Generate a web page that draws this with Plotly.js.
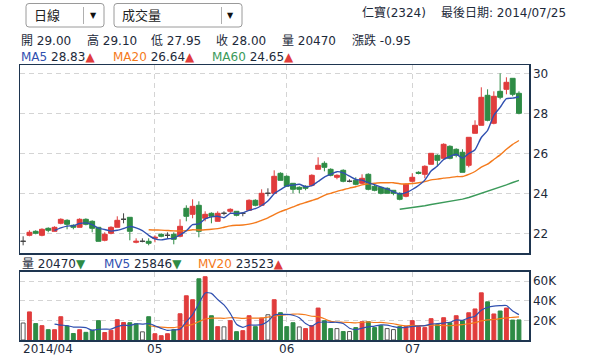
<!DOCTYPE html>
<html><head><meta charset="utf-8">
<script src="https://cdn.plot.ly/plotly-3.0.1.min.js"></script>
<style>html,body{margin:0;padding:0;background:#fff}#chart{width:594px;height:357px}</style>
</head><body><div id="chart"></div>
<script>
// ---- data ----
const openP = [21.6,21.9,22.1,21.9,22.25,22.1,22.5,22.65,22.4,22.3,
 22.7,22.6,22.3,21.65,22.0,22.3,22.7,22.8,21.55,21.6,
 21.6,21.75,21.95,21.9,21.95,21.85,23.25,22.95,23.4,22.75,
 23.0,22.6,23.0,23.1,23.1,23.0,23.15,23.65,23.4,24.0,
 24.0,25.0,24.85,24.5,24.3,24.35,24.4,25.2,25.5,25.2,
 24.8,25.15,24.6,24.65,24.5,24.95,24.35,24.3,24.25,24.15,
 24.0,23.85,24.6,25.05,24.95,25.45,25.9,25.75,26.35,26.2,
 26.05,25.4,27.0,27.4,28.9,27.5,29.1,29.2,29.75,29.0];
const highP = [21.85,22.15,22.15,22.25,22.3,22.35,22.75,22.7,22.45,22.75,
 22.75,22.65,22.3,22.05,22.35,22.85,23.0,22.8,21.75,21.75,
 21.75,21.9,22.0,22.05,22.05,22.7,23.4,23.7,23.6,23.1,
 23.05,23.1,23.1,23.25,23.1,23.05,23.7,23.7,24.2,24.25,
 25.15,25.05,24.9,24.5,24.35,24.4,24.95,25.8,25.6,25.25,
 24.95,25.2,24.7,24.8,24.95,25.0,24.5,24.35,24.3,24.15,
 24.05,24.5,25.0,25.1,25.4,26.0,25.95,26.5,26.4,26.25,
 26.2,26.8,27.65,29.3,29.2,29.1,30.0,29.8,29.75,29.1];
const lowP = [21.4,21.85,21.95,21.85,22.05,22.1,22.45,22.2,22.2,22.3,
 22.4,22.05,21.6,21.6,21.95,22.3,22.5,21.65,21.5,21.55,
 21.4,21.55,21.8,21.75,21.45,21.8,22.6,22.75,21.8,22.6,
 22.5,22.6,22.9,23.0,22.85,22.85,23.15,23.35,23.4,23.85,
 24.0,24.65,24.35,24.0,24.0,24.15,24.35,25.2,25.1,24.85,
 24.7,24.55,24.55,24.4,24.45,24.15,24.1,23.95,24.0,23.9,
 23.65,23.8,24.55,24.95,24.75,25.45,25.35,25.75,25.7,25.8,
 25.05,25.3,27.0,27.4,27.6,27.45,28.7,28.95,28.85,27.95];
const closeP = [21.6,22.05,22.0,22.2,22.15,22.3,22.7,22.45,22.3,22.7,
 22.45,22.25,21.6,21.95,22.3,22.65,22.7,22.1,21.6,21.6,
 21.5,21.8,21.85,21.9,21.7,22.35,22.85,23.35,22.1,22.95,
 22.85,23.0,23.0,23.2,22.9,23.0,23.65,23.4,24.0,24.0,
 24.85,24.65,24.35,24.2,24.2,24.25,24.9,25.4,25.3,24.9,
 24.9,24.6,24.6,24.45,24.75,24.2,24.15,24.0,24.0,24.0,
 23.7,24.45,24.8,25.0,25.35,26.0,25.65,26.45,25.75,25.9,
 25.05,26.8,27.4,28.8,27.65,28.85,28.8,29.55,28.95,28.0];
const prevClose = 21.6;
const volume = [17300,28600,16700,14600,10500,10500,23700,14200,6600,10500,
 7800,10100,19700,7600,9900,20700,17800,17600,16500,8300,
 23700,6400,4400,6400,10500,26700,45000,41000,62300,64400,
 24700,13600,13400,19700,8500,9500,24700,13600,22200,25700,
 41000,27800,13600,17600,13300,11600,14600,32500,19700,11600,
 11600,8600,8600,12600,18600,18600,12600,14600,11600,10600,
 13600,13600,19700,13600,12600,21700,15600,22700,17600,24700,
 19700,27700,31600,48000,38830,26500,29500,32500,20260,20470];
const ma5 = [null,null,null,null,null,22.14,22.27,22.36,22.38,22.49,
 22.52,22.43,22.26,22.19,22.11,22.15,22.24,22.34,22.27,22.13,
 21.9,21.72,21.67,21.73,21.75,21.92,22.13,22.43,22.47,22.72,
 22.82,22.85,22.78,23.0,22.99,23.02,23.15,23.23,23.39,23.61,
 23.98,24.18,24.37,24.41,24.45,24.33,24.38,24.59,24.81,24.95,
 25.08,25.02,24.86,24.69,24.66,24.52,24.43,24.31,24.22,24.07,
 23.97,24.03,24.19,24.39,24.66,25.12,25.36,25.69,25.84,25.95,
 25.76,25.99,26.18,26.79,27.14,27.9,28.3,28.73,28.76,28.83];
const ma20 = [null,null,null,null,null,null,null,null,null,null,
 null,null,null,null,null,null,null,null,null,null,
 22.18,22.165,22.16,22.14,22.12,22.12,22.13,22.175,22.165,22.18,
 22.2,22.235,22.305,22.37,22.4,22.415,22.46,22.53,22.65,22.77,
 22.935,23.08,23.2,23.32,23.44,23.54,23.64,23.74,23.9,24.0,
 24.1,24.18,24.26,24.325,24.42,24.48,24.5,24.53,24.53,24.53,
 24.475,24.465,24.49,24.53,24.585,24.67,24.71,24.76,24.785,24.835,
 24.84,24.95,25.09,25.31,25.455,25.69,25.92,26.2,26.445,26.64];
const ma60 = [null,null,null,null,null,null,null,null,null,null,
 null,null,null,null,null,null,null,null,null,null,
 null,null,null,null,null,null,null,null,null,null,
 null,null,null,null,null,null,null,null,null,null,
 null,null,null,null,null,null,null,null,null,null,
 null,null,null,null,null,null,null,null,null,null,
 23.2,23.24,23.28,23.33,23.38,23.44,23.49,23.56,23.62,23.67,
 23.71,23.79,23.89,24.0,24.09,24.19,24.3,24.42,24.54,24.65];
const mv5 = [null,null,null,null,null,16180,15200,14700,13100,13100,
 12560,9840,10940,11140,11020,13600,15140,14720,16500,16180,
 16780,14500,11860,9840,10280,10880,18600,25920,37100,47880,
 47480,41200,35680,27160,15980,12940,15160,15200,15700,19140,
 25440,26060,26060,25140,22660,16780,14140,17920,18340,18000,
 18000,16800,12020,10600,12000,13400,14200,15400,15200,13600,
 12600,12800,13820,14220,14620,16240,16640,17240,18040,20460,
 20060,22480,24260,30340,33170,34530,34890,35070,29520,25846];
const mv20 = [null,null,null,null,null,null,null,null,null,null,
 null,null,null,null,null,null,null,null,null,null,
 14780,13670,13060,12650,12650,13460,14520,15860,18650,21340,
 22190,22360,22050,22650,22580,22020,22370,22170,22450,23320,
 24190,25260,25720,26280,26420,25660,24140,23720,21590,18950,
 18290,18040,17800,17450,17950,18410,17800,17850,17320,16570,
 15200,14490,14790,14590,14560,15060,15110,14620,14520,15170,
 15580,16530,17680,19450,20460,20860,21700,22600,23030,23523];
const monthTickIdx = [21, 42, 62];
const monthTickText = ['05', '06', '07'];
const firstMonthLabel = '2014/04';
const priceTicks = [22, 24, 26, 28, 30];
const volTicks = [20000, 40000, 60000];
const volTickText = ['20K', '40K', '60K'];

// ---- styling ----
const FONT = '"DejaVu Sans", "Noto Sans CJK TC", sans-serif';
const TXT = '#1d2a3a';
const UP = '#e03c3c', DN = '#2e8b45', DOJI = '#444444';
const GRID = '#d4d4d4', FRAME = '#1e3550';
const C_MA5 = '#3050b0', C_MA20 = '#f47a1c', C_MA60 = '#3b9a5a';
const W = 594, H = 357, ML = 20, MR = 65, MT = 65, MB = 17;
const pw = W - ML - MR, ph = H - MT - MB;
const px = v => (v - ML) / pw;
const py = v => (H - MB - v) / ph;

const idx = closeP.map((_, i) => i);
const isDoji = i => openP[i] === closeP[i];
const mainIdx = idx.filter(i => !isDoji(i));
const dojiIdx = idx.filter(isDoji);
const pick = (arr, ids) => ids.map(i => arr[i]);

const volFill = idx.map(i => {
  const pc = i === 0 ? prevClose : closeP[i - 1];
  return closeP[i] > pc ? UP : (closeP[i] < pc ? DN : '#ffffff');
});
const volLine = idx.map(i => {
  const pc = i === 0 ? prevClose : closeP[i - 1];
  return closeP[i] > pc ? UP : (closeP[i] < pc ? DN : '#555555');
});

const traces = [
  {type: 'candlestick', x: mainIdx, open: pick(openP, mainIdx), high: pick(highP, mainIdx),
   low: pick(lowP, mainIdx), close: pick(closeP, mainIdx), xaxis: 'x', yaxis: 'y',
   increasing: {line: {color: UP, width: 1}, fillcolor: UP},
   decreasing: {line: {color: DN, width: 1}, fillcolor: DN},
   whiskerwidth: 0, hoverinfo: 'skip'},
  {type: 'candlestick', x: dojiIdx, open: pick(openP, dojiIdx), high: pick(highP, dojiIdx),
   low: pick(lowP, dojiIdx), close: pick(closeP, dojiIdx), xaxis: 'x', yaxis: 'y',
   increasing: {line: {color: DOJI, width: 1}, fillcolor: DOJI},
   decreasing: {line: {color: DOJI, width: 1}, fillcolor: DOJI},
   whiskerwidth: 0, hoverinfo: 'skip'},
  {type: 'scatter', mode: 'lines', x: idx, y: ma60, xaxis: 'x', yaxis: 'y',
   line: {color: C_MA60, width: 1.4}, hoverinfo: 'skip'},
  {type: 'scatter', mode: 'lines', x: idx, y: ma20, xaxis: 'x', yaxis: 'y',
   line: {color: C_MA20, width: 1.4, shape: 'spline', smoothing: 0.5}, hoverinfo: 'skip'},
  {type: 'scatter', mode: 'lines', x: idx, y: ma5, xaxis: 'x', yaxis: 'y',
   line: {color: C_MA5, width: 1.4, shape: 'spline', smoothing: 0.6}, hoverinfo: 'skip'},
  {type: 'bar', x: idx, y: volume, xaxis: 'x2', yaxis: 'y2', width: 0.62,
   marker: {color: volFill, line: {color: volLine, width: 1}}, hoverinfo: 'skip'},
  {type: 'scatter', mode: 'lines', x: idx, y: mv20, xaxis: 'x2', yaxis: 'y2',
   line: {color: C_MA20, width: 1.2, shape: 'spline', smoothing: 0.6}, hoverinfo: 'skip'},
  {type: 'scatter', mode: 'lines', x: idx, y: mv5, xaxis: 'x2', yaxis: 'y2',
   line: {color: C_MA5, width: 1.2, shape: 'spline', smoothing: 0.6}, hoverinfo: 'skip'}
];

const xCommon = {range: [-0.5, 80.6], tickvals: monthTickIdx, showgrid: true, gridcolor: GRID,
  griddash: '5px,4px', gridwidth: 1, showline: true, linecolor: FRAME, linewidth: 1.5,
  mirror: true, zeroline: false, ticks: '', showticklabels: false, fixedrange: true,
  rangeslider: {visible: false}};
const yCommon = {side: 'right', showgrid: true, gridcolor: GRID, griddash: '5px,4px', gridwidth: 1,
  showline: true, linecolor: FRAME, linewidth: 1.5, mirror: true, zeroline: false, ticks: '',
  fixedrange: true, tickfont: {family: FONT, size: 12, color: TXT}};

function ann(text, xPix, yPix, extra) {
  return Object.assign({text: text, x: px(xPix), y: py(yPix), xref: 'paper', yref: 'paper',
    xanchor: 'left', yanchor: 'middle', showarrow: false, borderpad: 0, borderwidth: 0,
    font: {family: FONT, size: 12, color: TXT}}, extra || {});
}
const sp = (c, t) => '<span style="color:' + c + '">' + t + '</span>';
const upA = sp(UP, '▲'), dnA = sp(DN, '▼');

const annotations = [
  ann('日線', 34, 15.5, {font: {family: FONT, size: 13, color: '#222'}}),
  ann('▼', 93.3, 15.5, {xanchor: 'center', font: {family: FONT, size: 8, color: '#111'}}),
  ann('成交量', 122, 15.5, {font: {family: FONT, size: 13, color: '#222'}}),
  ann('▼', 230.7, 15.5, {xanchor: 'center', font: {family: FONT, size: 8, color: '#111'}}),
  ann('仁寶(2324)', 362, 13),
  ann('最後日期: 2014/07/25', 441, 13),
  ann('開 ' + openP[79].toFixed(2), 21, 40.5),
  ann('高 ' + highP[79].toFixed(2), 87, 40.5),
  ann('低 ' + lowP[79].toFixed(2), 151, 40.5),
  ann('收 ' + closeP[79].toFixed(2), 215.7, 40.5),
  ann('量 ' + volume[79], 281.7, 40.5),
  ann('漲跌 ' + (closeP[79] - closeP[78]).toFixed(2), 351.7, 40.5),
  ann(sp(C_MA5, 'MA5') + ' ' + ma5[79].toFixed(2) + upA, 21, 57.5),
  ann(sp(C_MA20, 'MA20') + ' ' + ma20[79].toFixed(2) + upA, 113, 57.5),
  ann(sp(C_MA60, 'MA60') + ' ' + ma60[79].toFixed(2) + upA, 212, 57.5),
  ann('量 ' + volume[79] + dnA, 22, 263.5),
  ann(sp(C_MA5, 'MV5') + ' ' + mv5[79] + dnA, 104, 263.5),
  ann(sp(C_MA20, 'MV20') + ' ' + mv20[79] + upA, 198.3, 263.5),
  ann(firstMonthLabel, 22.7, 348.5)
];
// month tick labels placed on the x2 data scale
monthTickIdx.forEach((v, k) => {
  annotations.push({text: monthTickText[k], x: v, xref: 'x2', y: py(348.5), yref: 'paper',
    xanchor: 'center', yanchor: 'middle', showarrow: false, borderpad: 0, borderwidth: 0,
    font: {family: FONT, size: 12, color: TXT}});
});

function roundRectPath(x1, y1, x2, y2, r) {
  const X = v => px(v), Y = v => py(v);
  return 'M' + X(x1 + r) + ',' + Y(y1) + ' L' + X(x2 - r) + ',' + Y(y1) +
    ' Q' + X(x2) + ',' + Y(y1) + ' ' + X(x2) + ',' + Y(y1 + r) +
    ' L' + X(x2) + ',' + Y(y2 - r) + ' Q' + X(x2) + ',' + Y(y2) + ' ' + X(x2 - r) + ',' + Y(y2) +
    ' L' + X(x1 + r) + ',' + Y(y2) + ' Q' + X(x1) + ',' + Y(y2) + ' ' + X(x1) + ',' + Y(y2 - r) +
    ' L' + X(x1) + ',' + Y(y1 + r) + ' Q' + X(x1) + ',' + Y(y1) + ' ' + X(x1 + r) + ',' + Y(y1) + ' Z';
}
const shapes = [
  {type: 'path', xref: 'paper', yref: 'paper', path: roundRectPath(26, 3.5, 104, 27, 3),
   line: {color: '#9a9a9a', width: 1}},
  {type: 'path', xref: 'paper', yref: 'paper', path: roundRectPath(114, 3.5, 242, 27, 3),
   line: {color: '#9a9a9a', width: 1}},
  {type: 'line', xref: 'paper', yref: 'paper', x0: px(83.5), x1: px(83.5), y0: py(7), y1: py(24),
   line: {color: '#b0b0b0', width: 1}},
  {type: 'line', xref: 'paper', yref: 'paper', x0: px(221.5), x1: px(221.5), y0: py(7), y1: py(24),
   line: {color: '#b0b0b0', width: 1}}
];

const layout = {
  width: W, height: H, margin: {l: ML, r: MR, t: MT, b: MB, pad: 0},
  paper_bgcolor: '#ffffff', plot_bgcolor: '#ffffff', showlegend: false, hovermode: false,
  boxgap: 0.22, boxgroupgap: 0, boxmode: 'overlay',
  font: {family: FONT, size: 12, color: TXT},
  xaxis: Object.assign({}, xCommon, {domain: [0, 1], anchor: 'y'}),
  xaxis2: Object.assign({}, xCommon, {domain: [0, 1], anchor: 'y2'}),
  yaxis: Object.assign({}, yCommon, {domain: [py(253), 1], anchor: 'x', range: [21.015, 30.415],
    tickvals: priceTicks}),
  yaxis2: Object.assign({}, yCommon, {domain: [0, py(271.7)], anchor: 'x2', range: [0, 69500],
    tickvals: volTicks, ticktext: volTickText}),
  annotations: annotations,
  shapes: shapes
};

Plotly.newPlot('chart', traces, layout, {staticPlot: true, displayModeBar: false});
</script>
</body></html>
